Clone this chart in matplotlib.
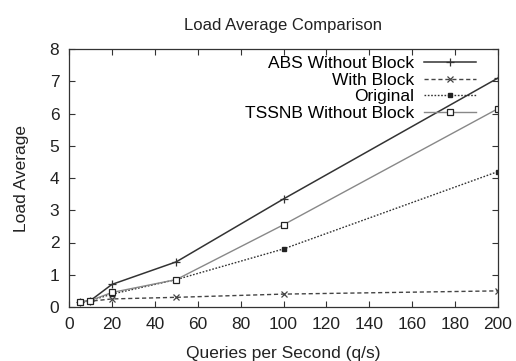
import matplotlib
matplotlib.use("Agg")
import matplotlib.pyplot as plt

plt.rcParams['font.family'] = ['Liberation Sans', 'DejaVu Sans']

qps = [5, 10, 20, 50, 100, 200]
abs_without_block = [0.15, 0.2, 0.7, 1.4, 3.35, 7.1]
with_block = [0.15, 0.18, 0.25, 0.3, 0.4, 0.5]
original = [0.15, 0.2, 0.4, 0.85, 1.8, 4.2]
tssnb_without_block = [0.15, 0.2, 0.45, 0.85, 2.55, 6.15]

fig = plt.figure(figsize=(5.16, 3.61), dpi=100)
ax = fig.add_axes([69/516, 1 - 307/361, (498-69)/516, (307-49)/361])

ax.plot(qps, abs_without_block, color="#333333", lw=1.1, marker="+", ms=6, mew=0.9,
        label="ABS Without Block")
ax.plot(qps, with_block, color="#444444", lw=1.0, ls=(0, (3, 2)), marker="x", ms=4, mew=0.9,
        label="With Block")
ax.plot(qps, original, color="#333333", lw=1.0, ls=(0, (1.2, 1.2)), marker="s", ms=3.5,
        mfc="#222222", mec="#222222", label="Original")
ax.plot(qps, tssnb_without_block, color="#888888", lw=1.0, marker="s", ms=5,
        mfc="white", mec="#222222", mew=0.9, label="TSSNB Without Block")

ax.set_xlim(0, 200)
ax.set_ylim(0, 8)
ax.set_xticks(range(0, 201, 20))
ax.set_yticks(range(0, 9))
ax.tick_params(direction="in", top=True, right=True, length=4, width=0.8,
               labelsize=12.5, colors="#333333", labelcolor="#222222", pad=7)
for s in ax.spines.values():
    s.set_color("#333333")
    s.set_linewidth(0.9)

ax.set_title("Load Average Comparison", fontsize=12, color="#222222", pad=14)
ax.set_xlabel("Queries per Second (q/s)", fontsize=12.5, color="#222222", labelpad=10)
ax.set_ylabel("Load Average", fontsize=12.5, color="#222222", labelpad=15)

ax.legend(loc="upper right", frameon=False, markerfirst=False, fontsize=12.5,
          handlelength=3.0, handletextpad=0.55, labelspacing=0.08,
          borderaxespad=0, bbox_to_anchor=(1 - 15/429, 1.0))

fig.savefig("out.png", dpi=100)
